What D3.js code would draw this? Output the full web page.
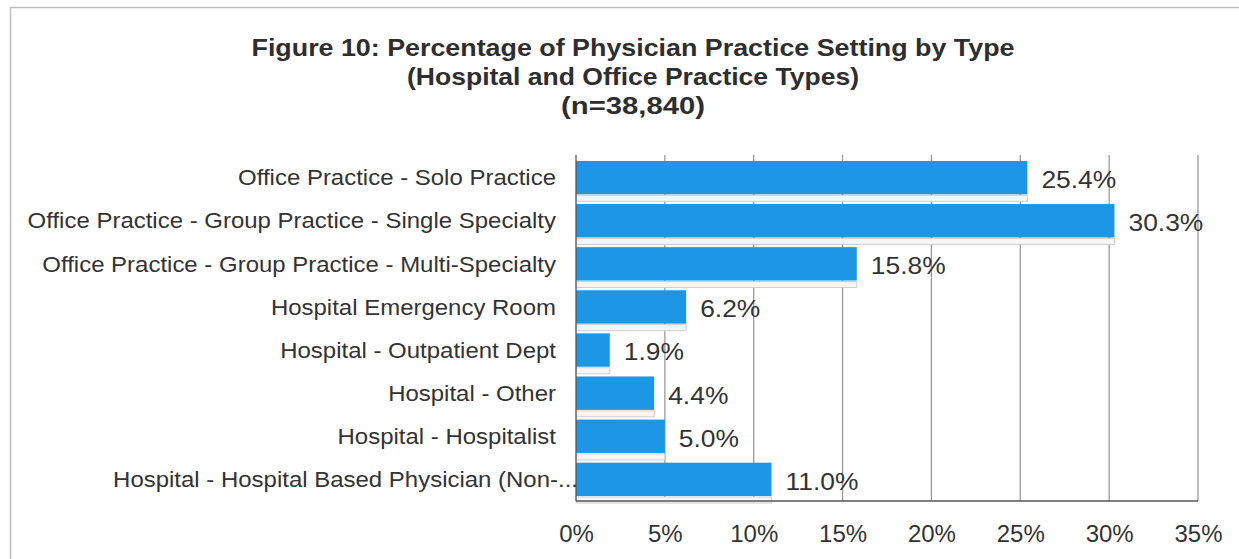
<!DOCTYPE html>
<html><head><meta charset="utf-8">
<script src="https://cdn.jsdelivr.net/npm/d3@7"></script>
<style>body{margin:0;background:#fff}svg{display:block}</style>
</head><body>
<svg id="c" width="1239" height="559"></svg>
<script>
const titleLines = ["Figure 10:  Percentage of Physician Practice Setting by Type","(Hospital and Office Practice Types)","(n=38,840)"];
const categories = ["Office Practice - Solo Practice","Office Practice - Group Practice - Single Specialty","Office Practice - Group Practice - Multi-Specialty","Hospital Emergency Room","Hospital - Outpatient Dept","Hospital - Other","Hospital - Hospitalist","Hospital - Hospital Based Physician (Non-..."];
const values = [25.4,30.3,15.8,6.2,1.9,4.4,5.0,11.0];
const tickValues = [0,5,10,15,20,25,30,35];

const svg = d3.select("#c");
const txt = "#333333";
const x = d3.scaleLinear().domain([0,35]).range([576,1198]);
const y = d3.scaleBand().domain(categories).range([156,501]).paddingInner(0.226).paddingOuter(0.115);

// outer border
svg.append("path").attr("d","M10.5,559 V7.5 H1239").attr("fill","none").attr("stroke","#bdbdbd").attr("stroke-width",1.5);

// title
const titleY = [47,76,105];
const titleW = [763,452,144];
titleLines.forEach((t,i)=>{
  svg.append("text").attr("x",633).attr("y",titleY[i]).attr("dy","0.36em")
    .attr("text-anchor","middle").attr("font-family","'Liberation Sans Narrow','Liberation Sans',Arial,sans-serif")
    .attr("font-weight","bold").attr("font-size",24).attr("fill","#2e2e2e")
    .attr("textLength",titleW[i]).attr("lengthAdjust","spacingAndGlyphs").text(t);
});

// gridlines
svg.append("g").selectAll("line").data(tickValues.slice(1)).join("line")
  .attr("x1",d=>x(d)).attr("x2",d=>x(d)).attr("y1",155).attr("y2",501)
  .attr("stroke","#9a9a9a").attr("stroke-width",1.3);

// shadow strips under bars
svg.append("g").selectAll("rect").data(values).join("rect")
  .attr("x",x(0)).attr("y",(d,i)=>y(categories[i])+y.bandwidth()+1)
  .attr("width",d=>x(d)-x(0)).attr("height",6)
  .attr("fill","#f6f6f6").attr("stroke","#cfcfcf").attr("stroke-width",1);

// bars
svg.append("g").selectAll("rect").data(values).join("rect")
  .attr("x",x(0)).attr("y",(d,i)=>y(categories[i]))
  .attr("width",d=>x(d)-x(0)).attr("height",y.bandwidth())
  .attr("fill","#1b97e5");

// axes lines
svg.append("line").attr("x1",x(0)).attr("x2",x(0)).attr("y1",155).attr("y2",501).attr("stroke","#555").attr("stroke-width",1.3);
svg.append("line").attr("x1",x(0)).attr("x2",x(35)).attr("y1",501).attr("y2",501).attr("stroke","#555").attr("stroke-width",1.5);

// category labels
svg.append("g").selectAll("text").data(categories).join("text")
  .attr("transform",d=>`translate(${d.endsWith("...")?578:556},${y(d)+y.bandwidth()/2}) scale(1.09,1)`)
  .attr("dy","0.35em").attr("text-anchor","end")
  .attr("font-family","'Liberation Sans',Arial,sans-serif").attr("font-size",22).attr("fill",txt)
  .text(d=>d);

// value labels
svg.append("g").selectAll("text").data(values).join("text")
  .attr("transform",(d,i)=>`translate(${x(d)+14},${y(categories[i])+y.bandwidth()/2+2}) scale(1.1,1)`)
  .attr("dy","0.35em").attr("text-anchor","start")
  .attr("font-family","'Liberation Sans',Arial,sans-serif").attr("font-size",24).attr("fill",txt)
  .text(d=>d.toFixed(1)+"%");

// x axis tick labels
const xAxis = d3.axisBottom(x).tickValues(tickValues).tickFormat(d=>d+"%").tickSize(0).tickPadding(0);
const gx = svg.append("g").attr("transform","translate(0,534)").call(xAxis);
gx.select(".domain").remove();
gx.selectAll("text").attr("dy","0.35em").attr("y",0)
  .attr("font-family","'Liberation Sans',Arial,sans-serif").attr("font-size",24).attr("fill",txt);
</script>
</body></html>
